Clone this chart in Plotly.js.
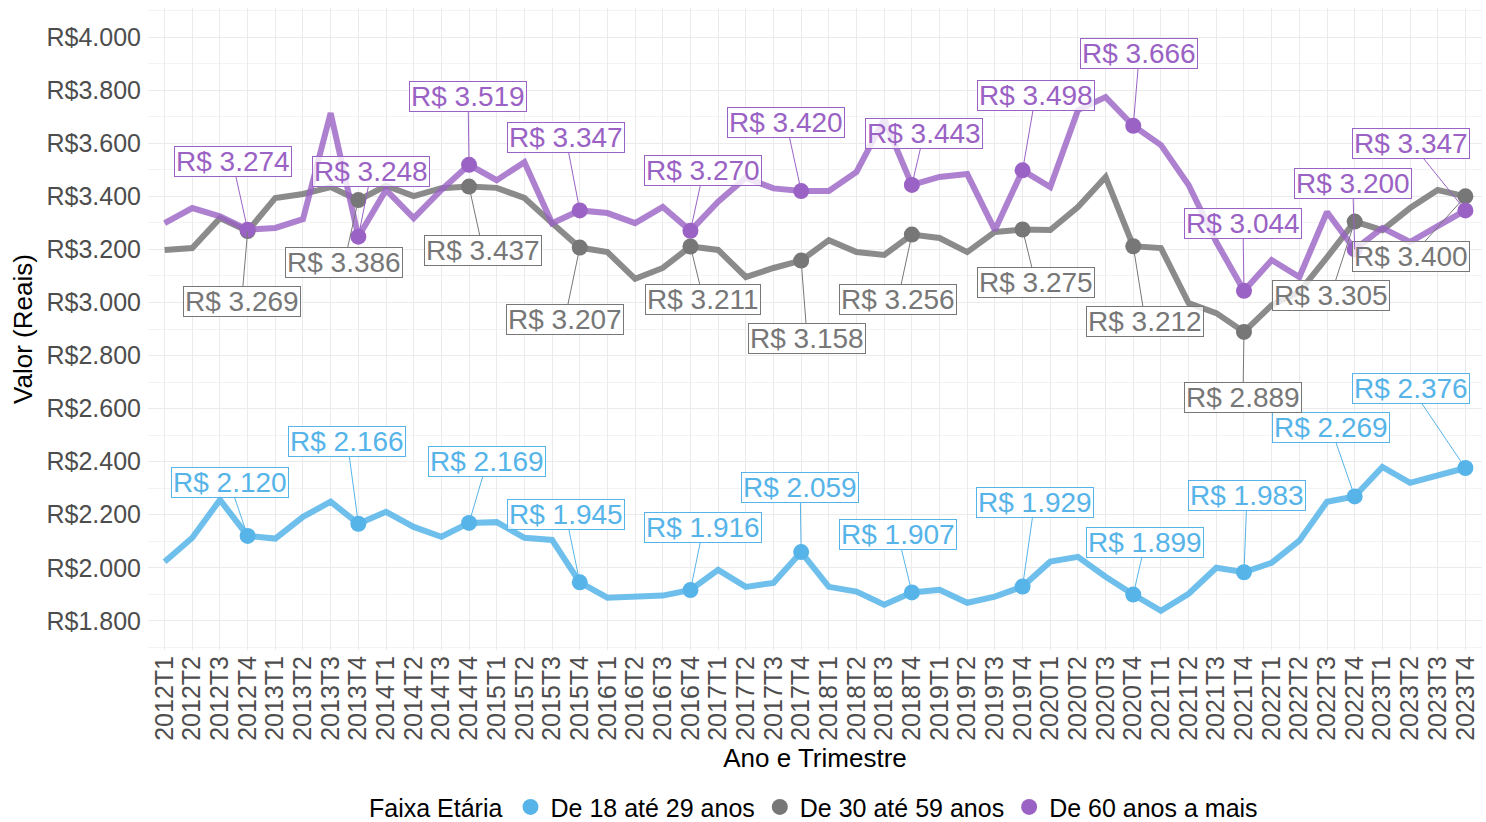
<!DOCTYPE html>
<html><head><meta charset="utf-8">
<script src="https://cdn.plot.ly/plotly-3.0.1.min.js"></script>
<style>html,body{margin:0;padding:0;background:#fff}#chart{width:1486px;height:822px}</style>
</head><body><div id="chart"></div>
<script>
const quarters = ['2012T1','2012T2','2012T3','2012T4','2013T1','2013T2','2013T3','2013T4',
  '2014T1','2014T2','2014T3','2014T4','2015T1','2015T2','2015T3','2015T4',
  '2016T1','2016T2','2016T3','2016T4','2017T1','2017T2','2017T3','2017T4',
  '2018T1','2018T2','2018T3','2018T4','2019T1','2019T2','2019T3','2019T4',
  '2020T1','2020T2','2020T3','2020T4','2021T1','2021T2','2021T3','2021T4',
  '2022T1','2022T2','2022T3','2022T4','2023T1','2023T2','2023T3','2023T4'];

const yTickValues = [1800, 2000, 2200, 2400, 2600, 2800, 3000, 3200, 3400, 3600, 3800, 4000];
const yTickLabels = ['R$1.800','R$2.000','R$2.200','R$2.400','R$2.600','R$2.800',
  'R$3.000','R$3.200','R$3.400','R$3.600','R$3.800','R$4.000'];

const de18a29 = [2023, 2113, 2256, 2120, 2110, 2192, 2249, 2166, 2211, 2154, 2117, 2169,
  2172, 2113, 2105, 1945, 1887, 1891, 1895, 1916, 1992, 1928, 1943, 2059,
  1928, 1910, 1861, 1907, 1917, 1868, 1891, 1929, 2023, 2041, 1966, 1899,
  1838, 1902, 2000, 1983, 2019, 2102, 2249, 2269, 2380, 2320, 2348, 2376];

const de30a59 = [3198, 3205, 3318, 3269, 3394, 3409, 3435, 3386, 3440, 3401, 3431, 3437,
  3432, 3394, 3299, 3207, 3190, 3089, 3130, 3211, 3198, 3096, 3130, 3158,
  3235, 3190, 3179, 3256, 3243, 3190, 3266, 3275, 3273, 3360, 3473, 3212,
  3205, 2998, 2960, 2889, 2990, 3040, 3170, 3305, 3273, 3356, 3424, 3400];

const de60mais = [3299, 3356, 3325, 3274, 3281, 3314, 3714, 3248, 3424, 3318, 3424, 3519,
  3461, 3529, 3299, 3347, 3337, 3299, 3360, 3270, 3380, 3470, 3430, 3420,
  3420, 3492, 3690, 3443, 3473, 3484, 3273, 3498, 3435, 3725, 3774, 3666,
  3593, 3443, 3228, 3044, 3160, 3096, 3341, 3200, 3281, 3228, 3288, 3347];

const seriesNames = ['De 18 até 29 anos', 'De 30 até 59 anos', 'De 60 anos a mais'];
const labelQuarters = ['2012T4','2013T4','2014T4','2015T4','2016T4','2017T4',
  '2018T4','2019T4','2020T4','2021T4','2022T4','2023T4'];

// ---- styling / label placement (pixels) ----
const dotColors = ['#56B4E9', '#777777', '#9A62C4'];
const lineColors = ['rgba(86,180,233,0.85)', 'rgba(119,119,119,0.85)', 'rgba(154,98,196,0.8)'];
const labelOffsets = [
  [[-18,-53],[-11,-82],[18,-61],[-14,-68],[13,-63],[-1,-65],[-14,-58],[12,-84],[12,-52],[3,-77],[-24,-69],[-54,-80]],
  [[-6,70],[-14,62],[14,64],[-15,72],[13,53],[6,78],[-14,65],[13,53],[12,75],[-1,66],[-24,74],[-54,60]],
  [[-15,-68],[13,-65],[-1,-68],[-14,-73],[13,-60],[-15,-69],[12,-51],[13,-75],[6,-72],[-1,-67],[-2,-66],[-54,-67]]
];

const allSeries = [de18a29, de30a59, de60mais];
const FONT = 'Liberation Sans, Arial, sans-serif';

function fmt(v) {
  return 'R$ ' + Math.floor(v / 1000) + '.' + String(v % 1000).padStart(3, '0');
}

const traces = [];
allSeries.forEach((vals, s) => {
  traces.push({
    type: 'scatter', mode: 'lines', x: quarters, y: vals,
    line: {color: lineColors[s], width: 6}, showlegend: false, hoverinfo: 'skip'
  });
});
const annotations = [];
allSeries.forEach((vals, s) => {
  const ly = labelQuarters.map(q => vals[quarters.indexOf(q)]);
  traces.push({
    type: 'scatter', mode: 'markers', x: labelQuarters, y: ly, name: seriesNames[s],
    marker: {color: dotColors[s], size: 16}, hoverinfo: 'skip'
  });
  labelQuarters.forEach((q, i) => {
    annotations.push({
      x: q, y: ly[i], xref: 'x', yref: 'y', text: fmt(ly[i]),
      showarrow: true, arrowhead: 0, arrowwidth: 1, arrowcolor: dotColors[s],
      ax: labelOffsets[s][i][0], ay: labelOffsets[s][i][1],
      font: {family: FONT, size: 28, color: dotColors[s]},
      bgcolor: 'rgba(255,255,255,0.8)', bordercolor: dotColors[s], borderwidth: 1,
      borderpad: 1, height: 27
    });
  });
});

const layout = {
  width: 1486, height: 822,
  margin: {l: 148, r: 4, t: 8, b: 172},
  paper_bgcolor: '#fff', plot_bgcolor: '#fff',
  font: {family: FONT, size: 25, color: '#000'},
  xaxis: {
    type: 'category', categoryarray: quarters, range: [-0.6, 47.6], automargin: false,
    tickmode: 'array', tickvals: quarters, ticktext: quarters,
    tickangle: -90, tickfont: {family: FONT, size: 25, color: '#4d4d4d'},
    showgrid: true, gridcolor: '#ebebeb', gridwidth: 1, zeroline: false, showline: false, ticks: '',
    title: {text: 'Ano e Trimestre', font: {family: FONT, size: 26, color: '#000'}, standoff: 9}
  },
  yaxis: {
    range: [1690, 4110], tickmode: 'array', tickvals: yTickValues, ticktext: yTickLabels,
    automargin: false, ticklabelstandoff: 6,
    tickfont: {family: FONT, size: 25, color: '#4d4d4d'},
    showgrid: true, gridcolor: '#ebebeb', zeroline: false, showline: false, ticks: '',
    minor: {dtick: 100, tick0: 1700, showgrid: true, gridcolor: '#f3f3f3'},
    title: {text: 'Valor (Reais)', font: {family: FONT, size: 26, color: '#000'}, standoff: 6}
  },
  legend: {
    orientation: 'h', x: 0.5, xanchor: 'center', xref: 'paper', yref: 'container',
    y: 0.018, yanchor: 'middle',
    font: {family: FONT, size: 25, color: '#000'},
    title: {text: 'Faixa Etária', side: 'left', font: {family: FONT, size: 25, color: '#000'}},
    itemwidth: 30, tracegroupgap: 0
  },
  annotations: annotations,
  hovermode: false
};

Plotly.newPlot('chart', traces, layout, {displayModeBar: false, staticPlot: true});
</script>
</body></html>
